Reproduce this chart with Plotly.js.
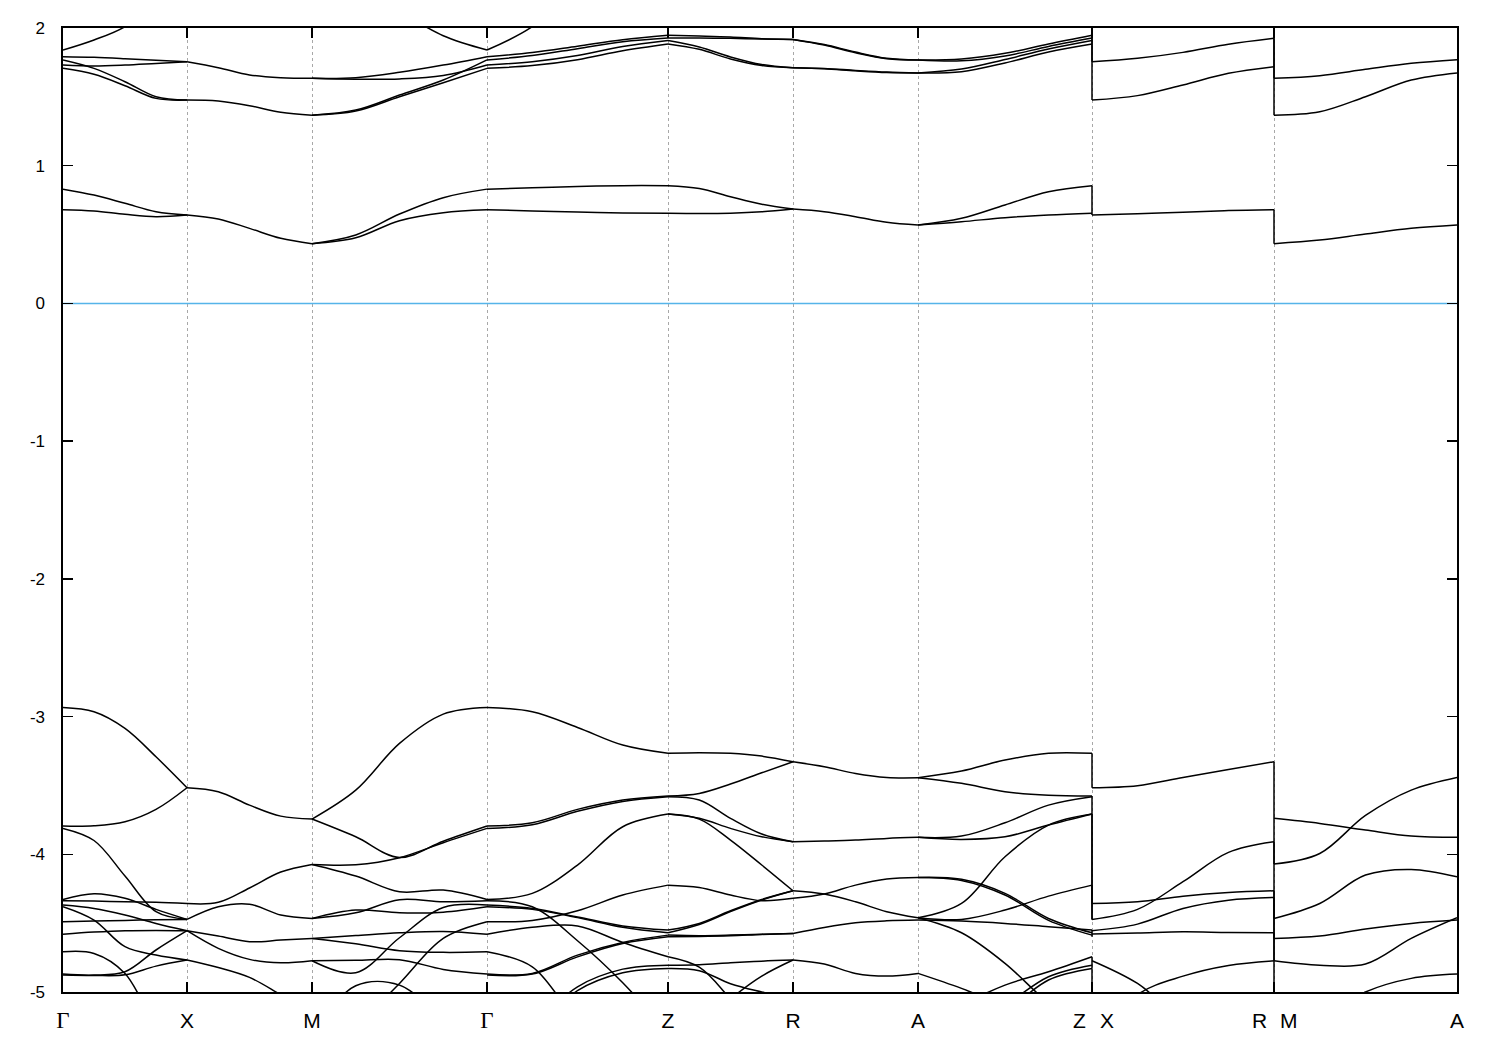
<!DOCTYPE html>
<html><head><meta charset="utf-8">
<script src="https://cdn.plot.ly/plotly-3.0.1.min.js"></script>
<style>html,body{margin:0;padding:0;background:#fff}</style>
</head><body>
<div id="chart" style="width:1500px;height:1050px"></div>
<script>
// ---- k-path (high-symmetry points, path length units) ----
const kLabels = ['Γ','X','M','Γ','Z','R','A','Z|X','R|M','A'];
const kPos = [0, 1.24, 2.49, 4.24, 6.05, 7.30, 8.55, 10.29, 12.11, 13.94];
const kFrac = [0, 0.25, 0.5, 0.75, 1];
const yTicks = [-5, -4, -3, -2, -1, 0, 1, 2];
const yTickText = ['-5', '-4', '-3', '-2', '-1', '0', '1', '2'];

// ---- band energies (eV) per path segment, sampled at kFrac ----
const segGX = [
  [1.792, 1.787, 1.777, 1.765, 1.755],
  [1.731, 1.724, 1.731, 1.743, 1.755],
  [1.768, 1.707, 1.610, 1.501, 1.477],
  [1.707, 1.664, 1.581, 1.489, 1.477],
  [1.840, 1.913, 2.010, 2.200, 2.300],
  [0.830, 0.787, 0.727, 0.666, 0.642],
  [0.680, 0.671, 0.647, 0.630, 0.642],
  [-2.934, -2.965, -3.086, -3.292, -3.517],
  [-3.795, -3.793, -3.764, -3.674, -3.517],
  [-3.812, -3.900, -4.158, -4.417, -4.473],
  [-4.337, -4.340, -4.345, -4.349, -4.357],
  [-4.328, -4.287, -4.320, -4.400, -4.473],
  [-4.369, -4.393, -4.441, -4.502, -4.555],
  [-4.381, -4.478, -4.671, -4.732, -4.768],
  [-4.490, -4.485, -4.480, -4.476, -4.473],
  [-4.580, -4.565, -4.555, -4.553, -4.555],
  [-4.708, -4.720, -4.865, -5.250, -5.500],
  [-4.870, -4.877, -4.853, -4.695, -4.555],
  [-4.877, -4.880, -4.875, -4.812, -4.768]
];
const segXM = [
  [1.755, 1.712, 1.659, 1.639, 1.635],
  [1.477, 1.470, 1.436, 1.388, 1.367],
  [0.642, 0.613, 0.545, 0.473, 0.434],
  [-3.517, -3.546, -3.643, -3.723, -3.744],
  [-4.357, -4.349, -4.245, -4.129, -4.074],
  [-4.473, -4.381, -4.362, -4.441, -4.466],
  [-4.555, -4.594, -4.635, -4.623, -4.611],
  [-4.555, -4.683, -4.763, -4.788, -4.773],
  [-4.768, -4.822, -4.894, -5.020, -5.150]
];
const segMG = [
  [1.635, 1.639, 1.678, 1.731, 1.792],
  [1.635, 1.628, 1.630, 1.655, 1.731],
  [1.367, 1.404, 1.513, 1.622, 1.768],
  [1.367, 1.397, 1.501, 1.603, 1.707],
  [2.400, 2.300, 2.120, 1.944, 1.840],
  [0.434, 0.497, 0.649, 0.768, 0.830],
  [0.434, 0.477, 0.601, 0.659, 0.680],
  [-3.744, -3.534, -3.195, -2.982, -2.934],
  [-3.744, -3.873, -4.023, -3.905, -3.795],
  [-4.074, -4.076, -4.025, -3.916, -3.812],
  [-4.074, -4.158, -4.272, -4.260, -4.328],
  [-4.466, -4.425, -4.330, -4.345, -4.337],
  [-4.466, -4.405, -4.425, -4.420, -4.381],
  [-4.611, -4.590, -4.570, -4.560, -4.580],
  [-4.773, -4.860, -4.606, -4.386, -4.369],
  [-5.500, -5.250, -4.938, -4.611, -4.490],
  [-4.611, -4.650, -4.700, -4.712, -4.708],
  [-4.773, -4.770, -4.765, -4.836, -4.870],
  [-5.300, -4.955, -4.950, -5.200, -5.400]
];
const segGZ = [
  [1.792, 1.822, 1.868, 1.915, 1.947],
  [1.768, 1.800, 1.850, 1.900, 1.927],
  [1.731, 1.755, 1.800, 1.865, 1.909],
  [1.707, 1.727, 1.770, 1.835, 1.884],
  [1.840, 2.010, 2.300, 2.500, 2.500],
  [0.830, 0.840, 0.849, 0.855, 0.855],
  [0.680, 0.672, 0.663, 0.657, 0.655],
  [-2.934, -2.965, -3.079, -3.207, -3.267],
  [-3.795, -3.771, -3.674, -3.606, -3.577],
  [-3.812, -3.785, -3.688, -3.616, -3.582],
  [-4.328, -4.284, -4.078, -3.800, -3.708],
  [-4.337, -4.381, -4.628, -4.933, -5.300],
  [-4.369, -4.393, -4.455, -4.520, -4.550],
  [-4.381, -4.400, -4.460, -4.530, -4.570],
  [-4.490, -4.480, -4.410, -4.296, -4.224],
  [-4.580, -4.530, -4.520, -4.640, -4.744],
  [-4.708, -4.817, -5.200, -5.400, -5.500],
  [-4.870, -4.865, -4.732, -4.640, -4.587],
  [-4.877, -4.870, -4.745, -4.648, -4.599],
  [-5.500, -5.250, -4.962, -4.834, -4.805],
  [-5.500, -5.300, -4.990, -4.860, -4.829]
];
const segZR = [
  [1.947, 1.942, 1.935, 1.922, 1.917],
  [1.927, 1.927, 1.925, 1.920, 1.917],
  [1.909, 1.862, 1.790, 1.735, 1.712],
  [1.884, 1.845, 1.775, 1.728, 1.712],
  [0.855, 0.835, 0.775, 0.720, 0.685],
  [0.655, 0.653, 0.655, 0.665, 0.685],
  [-3.267, -3.263, -3.267, -3.287, -3.328],
  [-3.577, -3.558, -3.490, -3.408, -3.328],
  [-3.582, -3.606, -3.739, -3.853, -3.909],
  [-3.708, -3.739, -3.812, -3.873, -3.909],
  [-3.708, -3.745, -3.897, -4.078, -4.265],
  [-4.224, -4.241, -4.296, -4.337, -4.320],
  [-4.550, -4.502, -4.410, -4.328, -4.265],
  [-4.570, -4.510, -4.416, -4.332, -4.265],
  [-4.587, -4.591, -4.587, -4.580, -4.575],
  [-4.599, -4.597, -4.592, -4.582, -4.575],
  [-4.744, -4.820, -5.050, -5.300, -5.400],
  [-4.805, -4.802, -4.788, -4.776, -4.768],
  [-4.829, -4.845, -4.940, -5.000, -5.050],
  [-5.400, -5.250, -5.050, -4.885, -4.768]
];
const segRA = [
  [1.917, 1.880, 1.825, 1.780, 1.768],
  [1.917, 1.876, 1.820, 1.777, 1.768],
  [1.712, 1.706, 1.692, 1.680, 1.674],
  [1.712, 1.704, 1.689, 1.677, 1.674],
  [0.685, 0.666, 0.630, 0.589, 0.569],
  [-3.328, -3.364, -3.413, -3.442, -3.444],
  [-3.909, -3.904, -3.897, -3.885, -3.877],
  [-4.265, -4.289, -4.345, -4.417, -4.461],
  [-4.320, -4.289, -4.224, -4.180, -4.168],
  [-4.575, -4.531, -4.497, -4.483, -4.478],
  [-4.768, -4.797, -4.865, -4.884, -4.865]
];
const segAZ = [
  [1.768, 1.775, 1.816, 1.884, 1.947],
  [1.768, 1.762, 1.797, 1.866, 1.927],
  [1.674, 1.702, 1.771, 1.847, 1.909],
  [1.674, 1.683, 1.746, 1.826, 1.884],
  [0.569, 0.618, 0.715, 0.811, 0.855],
  [0.569, 0.593, 0.623, 0.642, 0.655],
  [-3.444, -3.396, -3.316, -3.267, -3.267],
  [-3.444, -3.485, -3.546, -3.572, -3.577],
  [-3.877, -3.868, -3.771, -3.643, -3.582],
  [-3.877, -3.892, -3.873, -3.788, -3.708],
  [-4.461, -4.357, -4.018, -3.788, -3.708],
  [-4.168, -4.182, -4.284, -4.466, -4.570],
  [-4.168, -4.190, -4.296, -4.480, -4.587],
  [-4.461, -4.473, -4.405, -4.304, -4.224],
  [-4.478, -4.485, -4.502, -4.526, -4.550],
  [-4.461, -4.570, -4.792, -5.080, -5.300],
  [-4.865, -4.974, -5.100, -5.200, -5.300],
  [-5.300, -5.100, -4.950, -4.853, -4.744],
  [-5.500, -5.300, -5.100, -4.889, -4.805],
  [-5.500, -5.350, -5.150, -4.913, -4.829]
];
const segXR = [
  [1.755, 1.780, 1.823, 1.882, 1.925],
  [1.477, 1.509, 1.586, 1.671, 1.719],
  [0.642, 0.652, 0.662, 0.674, 0.680],
  [-3.517, -3.502, -3.442, -3.384, -3.328],
  [-4.357, -4.345, -4.304, -4.277, -4.265],
  [-4.473, -4.400, -4.199, -3.986, -3.909],
  [-4.555, -4.507, -4.393, -4.333, -4.313],
  [-4.579, -4.572, -4.563, -4.568, -4.570],
  [-4.773, -4.938, -5.200, -5.300, -5.350],
  [-5.400, -5.020, -4.885, -4.807, -4.773]
];
const segMA = [
  [1.635, 1.654, 1.700, 1.744, 1.770],
  [1.367, 1.392, 1.501, 1.622, 1.674],
  [0.434, 0.460, 0.504, 0.545, 0.569],
  [-3.739, -3.776, -3.824, -3.868, -3.877],
  [-4.071, -3.994, -3.718, -3.534, -3.442],
  [-4.466, -4.357, -4.151, -4.110, -4.163],
  [-4.611, -4.594, -4.543, -4.502, -4.478],
  [-4.773, -4.805, -4.797, -4.611, -4.461],
  [-5.400, -5.200, -5.000, -4.901, -4.870]
];
// vertical joins at the path discontinuities [energy before, energy after]
const jumpZX = [[2.100, 1.755], [1.947, 1.477], [0.855, 0.642],
  [-3.267, -3.517], [-3.577, -4.357], [-3.708, -4.473], [-4.224, -4.473],
  [-4.550, -4.599], [-4.744, -4.829], [-4.829, -5.300]];
const jumpRM = [[2.100, 1.635], [1.925, 1.367], [0.680, 0.434],
  [-3.328, -4.071], [-3.909, -4.466], [-4.265, -4.611], [-4.313, -4.773], [-4.570, -5.300]];

// ---- build traces ----
const segments = [
  {d: segGX, a: 0, b: 1}, {d: segXM, a: 1, b: 2}, {d: segMG, a: 2, b: 3},
  {d: segGZ, a: 3, b: 4}, {d: segZR, a: 4, b: 5}, {d: segRA, a: 5, b: 6},
  {d: segAZ, a: 6, b: 7}, {d: segXR, a: 7, b: 8}, {d: segMA, a: 8, b: 9}
];
const bx = [], by = [];
segments.forEach(s => {
  const x0 = kPos[s.a], x1 = kPos[s.b];
  s.d.forEach(piece => {
    piece.forEach((v, i) => { bx.push(x0 + kFrac[i] * (x1 - x0)); by.push(v); });
    bx.push(null); by.push(null);
  });
});
const jx = [], jy = [];
[[jumpZX, kPos[7]], [jumpRM, kPos[8]]].forEach(([list, xv]) => {
  list.forEach(p => { jx.push(xv, xv, null); jy.push(p[0], p[1], null); });
});

const traces = [
  {x: [kPos[0], kPos[kPos.length - 1]], y: [0, 0], mode: 'lines',
   line: {color: '#56b4e9', width: 1.6}, hoverinfo: 'skip'},
  {x: bx, y: by, mode: 'lines', connectgaps: false,
   line: {color: '#000', width: 1.5, shape: 'spline', smoothing: 1}, hoverinfo: 'skip'},
  {x: jx, y: jy, mode: 'lines', connectgaps: false,
   line: {color: '#000', width: 1.5}, hoverinfo: 'skip'}
];

const gam = '<span style="font-family:Liberation Serif, Times New Roman, serif;font-size:23px">Γ</span>';
const tickText = kLabels.map(l => l === 'Γ' ? gam : (l.indexOf('|') >= 0 ? '' : l));

const labFont = {family: 'Liberation Sans, Arial, sans-serif', size: 21, color: '#000'};
const splitLabels = [['Z', 10.16], ['X', 10.44], ['R', 11.96], ['M', 12.26]];
const annotations = splitLabels.map(([t, xv]) => ({
  text: t, x: xv, xref: 'x', y: -0.0296, yref: 'paper', yanchor: 'middle', xanchor: 'center',
  showarrow: false, font: labFont
}));

const layout = {
  width: 1500, height: 1050,
  margin: {l: 63, r: 43, t: 28, b: 58, pad: 0},
  paper_bgcolor: '#fff', plot_bgcolor: '#fff',
  showlegend: false,
  font: {family: 'Liberation Sans, Arial, sans-serif', color: '#000'},
  xaxis: {
    range: [0, kPos[kPos.length - 1]], tickmode: 'array', tickvals: kPos, ticktext: tickText,
    ticks: 'inside', ticklen: 10, tickwidth: 1.5, tickcolor: '#000',
    showline: true, linecolor: '#000', linewidth: 1.6, mirror: 'ticks',
    showgrid: true, gridcolor: '#a8a8a8', gridwidth: 1, griddash: '3px,3px',
    zeroline: false, tickfont: labFont, ticklabelstandoff: 9, fixedrange: true
  },
  yaxis: {
    range: [-5, 2], tickmode: 'array', tickvals: yTicks, ticktext: yTickText,
    ticks: 'inside', ticklen: 10, tickwidth: 1.5, tickcolor: '#000',
    showline: true, linecolor: '#000', linewidth: 1.6, mirror: 'ticks',
    showgrid: false, zeroline: false,
    tickfont: {family: 'Liberation Sans, Arial, sans-serif', size: 17, color: '#000'},
    ticklabelstandoff: 13, fixedrange: true
  },
  annotations: annotations
};

Plotly.newPlot('chart', traces, layout, {displayModeBar: false, staticPlot: true});
</script>
</body></html>
